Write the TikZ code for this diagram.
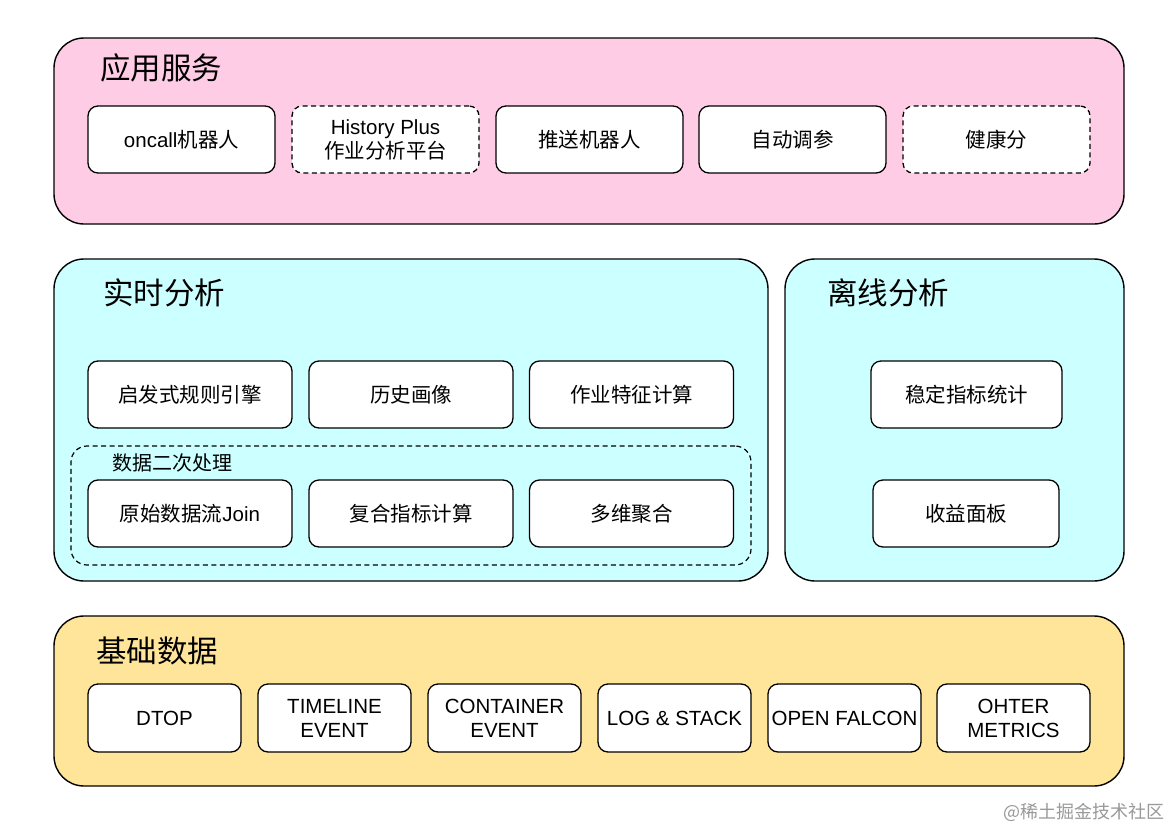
\documentclass[tikz,border=0pt]{standalone}
\usepackage{fontspec}
\setmainfont{Liberation Sans}
\newfontfamily\cjk{Noto Sans CJK SC}
\definecolor{pinkfill}{HTML}{FFCCE6}
\definecolor{cyanfill}{HTML}{CCFFFF}
\definecolor{yellowfill}{HTML}{FFE599}
\definecolor{wmgray}{HTML}{999999}
\begin{document}
\begin{tikzpicture}[x=1pt,y=-1pt,
  panel/.style={draw=black,line width=1.4pt,rounded corners=30pt,inner sep=0pt},
  ptitle/.style={anchor=west,inner sep=0pt,font=\cjk\fontsize{30.5}{33}\selectfont},
  box/.style={draw=black,line width=1.3pt,fill=white,rounded corners=10pt,inner sep=0pt,align=center,font=\fontsize{20.5}{24}\selectfont},
  dbox/.style={box,dashed,dash pattern=on 5pt off 3.5pt},
  group/.style={draw=black,line width=1.2pt,dash pattern=on 5pt off 3.5pt,rounded corners=16pt,inner sep=0pt}
]
\useasboundingbox (0,0) rectangle (1170,830);
\fill[white] (0,0) rectangle (1170,830);

% panels
\node[panel,fill=pinkfill,minimum width=1070pt,minimum height=186pt] (app) at (589,131) {};
\node[panel,fill=cyanfill,minimum width=714pt,minimum height=322pt] (rt) at (411,420) {};
\node[panel,fill=cyanfill,minimum width=339pt,minimum height=322pt] (off) at (954.5,420) {};
\node[panel,fill=yellowfill,minimum width=1070pt,minimum height=170pt] (base) at (589,701) {};

% titles
\node[ptitle] (appt) at (100,68) {应用服务};
\node[ptitle] (rtt) at (103,293) {实时分析};
\node[ptitle] (offt) at (827,293) {离线分析};
\node[ptitle] (baset) at (96,651) {基础数据};

% application boxes
\begin{scope}[every node/.append style={minimum width=187pt,minimum height=67pt}]
\node[box] (a1) at (181.5,139.5) {oncall{\cjk 机器人}};
\node[dbox] (a2) at (385.5,139.5) {History Plus\\{\cjk 作业分析平台}};
\node[box] (a3) at (589.5,139.5) {{\cjk 推送机器人}};
\node[box] (a4) at (792.5,139.5) {{\cjk 自动调参}};
\node[dbox] (a5) at (996.5,139.5) {{\cjk 健康分}};
\end{scope}

% realtime group
\node[group,minimum width=680pt,minimum height=119pt] (grp) at (411,505.5) {};
\node[anchor=west,inner sep=0pt,font=\cjk\fontsize{20}{22}\selectfont] (grpt) at (112,463) {数据二次处理};

\begin{scope}[every node/.append style={minimum width=204pt,minimum height=67pt}]
\node[box] (r1) at (190,394.5) {{\cjk 启发式规则引擎}};
\node[box] (r2) at (411,394.5) {{\cjk 历史画像}};
\node[box] (r3) at (631.5,394.5) {{\cjk 作业特征计算}};
\node[box] (r4) at (190,513.5) {{\cjk 原始数据流}Join};
\node[box] (r5) at (411,513.5) {{\cjk 复合指标计算}};
\node[box] (r6) at (631.5,513.5) {{\cjk 多维聚合}};
\end{scope}

% offline
\node[box,minimum width=191pt,minimum height=67pt] (o1) at (966.5,394.5) {{\cjk 稳定指标统计}};
\node[box,minimum width=186pt,minimum height=67pt] (o2) at (966,513.5) {{\cjk 收益面板}};

% base data
\begin{scope}[every node/.append style={minimum width=153pt,minimum height=68pt}]
\node[box] (b1) at (164.5,718) {DTOP};
\node[box] (b2) at (334.5,718) {TIMELINE\\EVENT};
\node[box] (b3) at (504.5,718) {CONTAINER\\EVENT};
\node[box] (b4) at (674.5,718) {LOG \& STACK};
\node[box] (b5) at (844.5,718) {OPEN FALCON};
\node[box] (b6) at (1013.5,718) {OHTER\\METRICS};
\end{scope}

\node[anchor=east,inner sep=0pt,text=wmgray,font=\cjk\fontsize{18}{20}\selectfont] (credit) at (1165,812) {@稀土掘金技术社区};
\end{tikzpicture}
\end{document}
